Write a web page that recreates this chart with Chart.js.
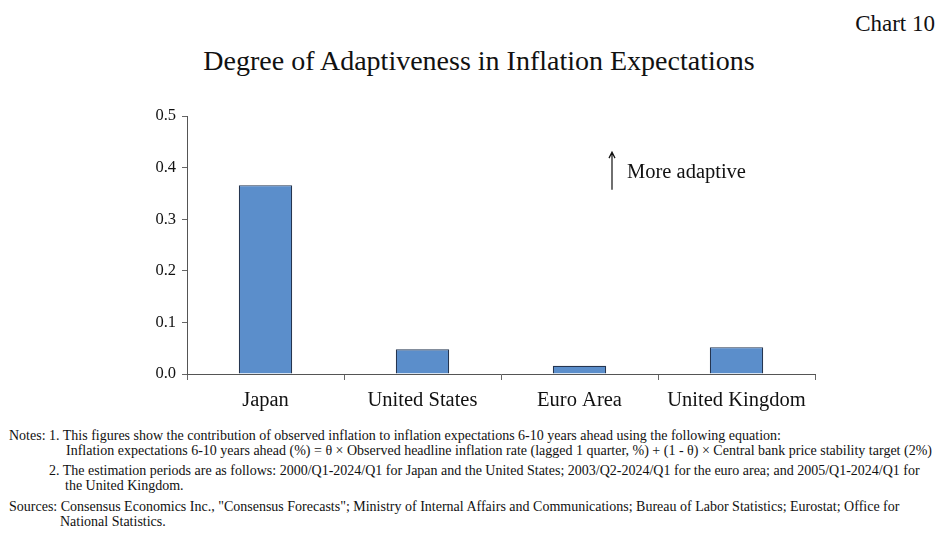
<!DOCTYPE html>
<html>
<head>
<meta charset="utf-8">
<script src="https://cdn.jsdelivr.net/npm/chart.js@4"></script>
<style>
    body { margin: 0; width: 951px; height: 552px; background: #fff; position: relative; overflow: hidden;
           font-family: "Liberation Serif", "Times New Roman", serif; color: #111; }
    .abs { position: absolute; white-space: nowrap; }
    #chart-no { right: 16px; top: 11px; font-size: 23px; }
    #title { left: 0; width: 958px; text-align: center; top: 45px; font-size: 28px; }
    #wrap { position: absolute; left: 0; top: 90px; width: 951px; height: 330px; }
    .note { font-size: 14px; line-height: 15px; }
</style>
</head>
<body>
<div id="chart-no" class="abs">Chart 10</div>
<div id="title" class="abs">Degree of Adaptiveness in Inflation Expectations</div>
<div id="wrap"><canvas id="adaptive-chart"></canvas></div>

<div class="abs note" style="left:9px; top:428px;">Notes: 1. This figures show the contribution of observed inflation to inflation expectations 6-10 years ahead using the following equation:</div>
<div class="abs note" style="left:66px; top:443px;">Inflation expectations 6-10 years ahead (%) = θ × Observed headline inflation rate (lagged 1 quarter, %) + (1 - θ) × Central bank price stability target (2%)</div>
<div class="abs note" style="left:49px; top:463px;">2. The estimation periods are as follows: 2000/Q1-2024/Q1 for Japan and the United States; 2003/Q2-2024/Q1 for the euro area; and 2005/Q1-2024/Q1 for</div>
<div class="abs note" style="left:65px; top:478px;">the United Kingdom.</div>
<div class="abs note" style="left:9px; top:499px;">Sources: Consensus Economics Inc., "Consensus Forecasts"; Ministry of Internal Affairs and Communications; Bureau of Labor Statistics; Eurostat; Office for</div>
<div class="abs note" style="left:60px; top:514px;">National Statistics.</div>

<script>
// Values
const regions = ['Japan', 'United States', 'Euro Area', 'United Kingdom'];
const thetaValues = [0.366, 0.048, 0.016, 0.052];
const yTicks = [0.0, 0.1, 0.2, 0.3, 0.4, 0.5];

const SERIF = '"Liberation Serif", "Times New Roman", serif';

// Arrow + "More adaptive" label, placed in data space
const annotationPlugin = {
    id: 'moreAdaptive',
    afterDraw(chart) {
        const ctx = chart.ctx;
        const x = chart.scales.x;
        const y = chart.scales.y;
        const step = x.getPixelForValue(1) - x.getPixelForValue(0);
        const px = x.getPixelForValue(2) + step * 0.207;
        const top = y.getPixelForValue(0.43);
        const bottom = y.getPixelForValue(0.357);
        ctx.save();
        ctx.strokeStyle = '#111';
        ctx.lineWidth = 1.2;
        ctx.beginPath();
        ctx.moveTo(px, bottom);
        ctx.lineTo(px, top);
        ctx.moveTo(px - 3, top + 6);
        ctx.lineTo(px, top);
        ctx.lineTo(px + 3, top + 6);
        ctx.stroke();
        ctx.fillStyle = '#111';
        ctx.font = '20.5px ' + SERIF;
        ctx.textBaseline = 'middle';
        ctx.fillText('More adaptive', px + 15, y.getPixelForValue(0.39));
        ctx.restore();
    }
};

new Chart(document.getElementById('adaptive-chart'), {
    type: 'bar',
    data: {
        labels: regions,
        datasets: [{
            data: thetaValues,
            backgroundColor: '#5b8ecb',
            borderColor: '#253550',
            borderWidth: 1.2,
            barPercentage: 0.68,
            categoryPercentage: 0.5
        }]
    },
    options: {
        responsive: true,
        maintainAspectRatio: false,
        animation: false,
        layout: { padding: { left: 137, right: 136, top: 26, bottom: 0 } },
        plugins: {
            legend: { display: false },
            tooltip: { enabled: false }
        },
        scales: {
            x: {
                grid: { display: true, drawOnChartArea: false, offset: true, color: '#666', tickLength: 6 },
                border: { color: '#555', width: 1 },
                ticks: { color: '#111', font: { family: SERIF, size: 20.5 }, padding: 8 },
                afterFit: (s) => { s.height = 46; }
            },
            y: {
                min: 0,
                max: 0.5,
                afterBuildTicks: (s) => { s.ticks = yTicks.map(v => ({ value: v })); },
                grid: { display: true, drawOnChartArea: false, color: '#666', tickLength: 5 },
                border: { color: '#555', width: 1 },
                ticks: {
                    color: '#111',
                    font: { family: SERIF, size: 16.5 },
                    padding: 6,
                    callback: (v) => Number(v).toFixed(1)
                },
                afterFit: (s) => { s.width = 50; }
            }
        }
    },
    plugins: [annotationPlugin]
});
</script>
</body>
</html>
